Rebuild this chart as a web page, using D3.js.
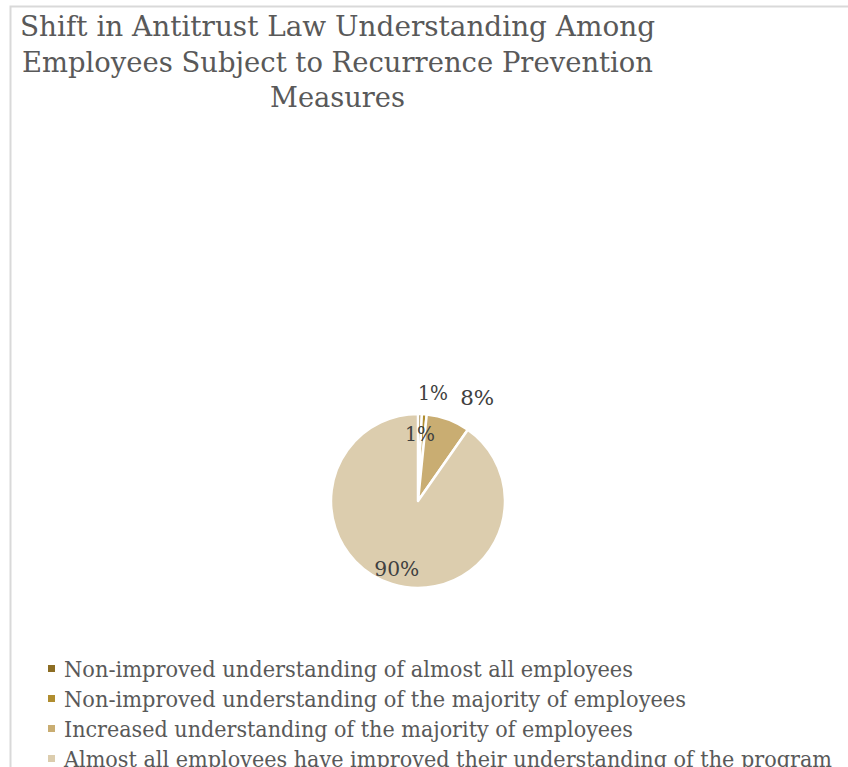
<!DOCTYPE html>
<html>
<head>
<meta charset="utf-8">
<script src="https://cdn.jsdelivr.net/npm/d3@7"></script>
<style>
  html, body { margin: 0; padding: 0; background: #fff; overflow: hidden; }
  svg { display: block; }
</style>
</head>
<body>
<div id="chart"></div>
<script>
// data
const categories = [
  "Non-improved understanding of almost all employees",
  "Non-improved understanding of the majority of employees",
  "Increased understanding of the majority of employees",
  "Almost all employees have improved their understanding of the program"
];
const shares = [0.7, 0.9, 8.1, 90.3];
const labelTexts = ["1%", "1%", "8%", "90%"];
const titleLines = [
  "Shift in Antitrust Law Understanding Among",
  "Employees Subject to Recurrence Prevention",
  "Measures"
];

const colors = ["#8c6d23", "#b08d2f", "#c9ad72", "#dccdae"];

const width = 848, height = 767;
const svg = d3.select("#chart").append("svg")
  .attr("width", width)
  .attr("height", height);

// chart frame (cropped at right/bottom like the original)
svg.append("rect")
  .attr("x", 10.5).attr("y", 6.5)
  .attr("width", 900).attr("height", 900)
  .attr("fill", "#fff")
  .attr("stroke", "#d9d9d9")
  .attr("stroke-width", 2);

const font = "'DejaVu Serif', 'Liberation Serif', serif";

// title, centred lines
const titleW = [635, 631, 135];
svg.append("g").selectAll("text")
  .data(titleLines)
  .enter().append("text")
  .attr("x", 337.5)
  .attr("y", (d, i) => 36 + i * 35.5)
  .attr("text-anchor", "middle")
  .attr("font-family", font)
  .attr("font-size", 28.5)
  .attr("fill", "#595959")
  .attr("textLength", (d, i) => titleW[i])
  .attr("lengthAdjust", "spacingAndGlyphs")
  .text(d => d);

// pie
const cx = 418, cy = 501, r = 87;
const pie = d3.pie().sort(null).value(d => d);
const arcs = pie(shares);
const arc = d3.arc().innerRadius(0).outerRadius(r);

const g = svg.append("g").attr("transform", "translate(" + cx + "," + cy + ")");
g.selectAll("path")
  .data(arcs)
  .enter().append("path")
  .attr("d", arc)
  .attr("fill", (d, i) => colors[i])
  .attr("stroke", "#fff")
  .attr("stroke-width", 2.5)
  .attr("stroke-linejoin", "round");

// label placement: angle (deg from 12 o'clock) and distance as fraction of radius
const labelPos = [
  { a: 7.8, k: 1.26 },
  { a: 1.7, k: 0.77 },
  { a: 29.8, k: 1.37 },
  { a: 197.5, k: 0.81 }
];
const labelW = [30, 30, 34, 45];
g.selectAll("text")
  .data(arcs)
  .enter().append("text")
  .attr("x", (d, i) => Math.sin(labelPos[i].a * Math.PI / 180) * labelPos[i].k * r)
  .attr("y", (d, i) => -Math.cos(labelPos[i].a * Math.PI / 180) * labelPos[i].k * r)
  .attr("dy", "0.35em")
  .attr("text-anchor", "middle")
  .attr("font-family", font)
  .attr("font-size", 21)
  .attr("fill", "#404040")
  .attr("textLength", (d, i) => labelW[i])
  .attr("lengthAdjust", "spacingAndGlyphs")
  .text((d, i) => labelTexts[i]);

// legend
const legendW = [569, 622, 569, 768];
const lg = svg.append("g");
const items = lg.selectAll("g")
  .data(categories)
  .enter().append("g")
  .attr("transform", (d, i) => "translate(0," + (677 + i * 30) + ")");
items.append("rect")
  .attr("x", 48).attr("y", -12)
  .attr("width", 7).attr("height", 7)
  .attr("fill", (d, i) => colors[i]);
items.append("text")
  .attr("x", 64)
  .attr("y", 0)
  .attr("font-family", font)
  .attr("font-size", 23)
  .attr("fill", "#595959")
  .attr("textLength", (d, i) => legendW[i])
  .attr("lengthAdjust", "spacingAndGlyphs")
  .text(d => d);
</script>
</body>
</html>
